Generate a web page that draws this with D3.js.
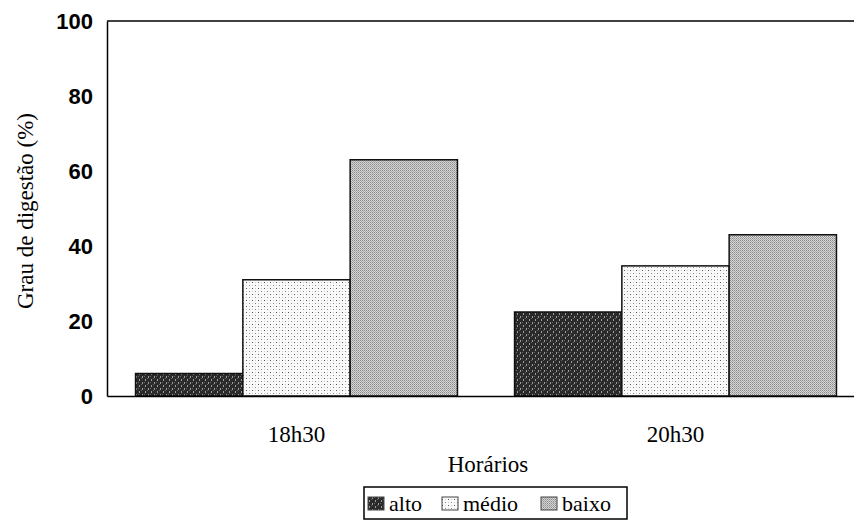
<!DOCTYPE html>
<html>
<head>
<meta charset="utf-8">
<script src="https://cdn.jsdelivr.net/npm/d3@7"></script>
<style>
  html, body { margin: 0; padding: 0; background: #fff; }
  svg { display: block; }
</style>
</head>
<body>
<div id="chart"></div>
<script>
/* Grau de digestão por horário — grouped bars with bitmap-like fill patterns. */
var horarios = ["18h30", "20h30"];
var niveis = ["alto", "médio", "baixo"];
var alto = [6, 22.4];
var medio = [31, 34.7];
var baixo = [63, 43];
var yTicks = [0, 20, 40, 60, 80, 100];

var series = [alto, medio, baixo];

var W = 854, H = 525;
var plot = { left: 107, right: 865, top: 21, bottom: 396 };
var SERIF = "Liberation Serif";
var SANS = "Liberation Sans";

var svg = d3.select("#chart").append("svg")
  .attr("width", W).attr("height", H)
  .attr("viewBox", "0 0 " + W + " " + H);

/* Fill patterns: dark, sparse dots, grey checker. */
var defs = svg.append("defs");
var pAlto = defs.append("pattern").attr("id", "p-alto")
  .attr("patternUnits", "userSpaceOnUse").attr("width", 6).attr("height", 6);
pAlto.append("rect").attr("width", 6).attr("height", 6).attr("fill", "#2a2a2a");
pAlto.append("rect").attr("x", 1).attr("y", 1).attr("width", 1).attr("height", 2).attr("fill", "#9a9a9a");
pAlto.append("rect").attr("x", 4).attr("y", 4).attr("width", 1).attr("height", 2).attr("fill", "#9a9a9a");
pAlto.append("rect").attr("x", 3).attr("y", 0).attr("width", 1).attr("height", 1).attr("fill", "#666");
pAlto.append("rect").attr("x", 0).attr("y", 4).attr("width", 1).attr("height", 1).attr("fill", "#666");

var pMedio = defs.append("pattern").attr("id", "p-medio")
  .attr("patternUnits", "userSpaceOnUse").attr("width", 6).attr("height", 6);
pMedio.append("rect").attr("width", 6).attr("height", 6).attr("fill", "#fafafa");
pMedio.append("rect").attr("x", 0).attr("y", 0).attr("width", 1).attr("height", 1).attr("fill", "#555");
pMedio.append("rect").attr("x", 3).attr("y", 3).attr("width", 1).attr("height", 1).attr("fill", "#888");
pMedio.append("rect").attr("x", 3).attr("y", 0).attr("width", 1).attr("height", 1).attr("fill", "#ccc");
pMedio.append("rect").attr("x", 0).attr("y", 3).attr("width", 1).attr("height", 1).attr("fill", "#ccc");

var pBaixo = defs.append("pattern").attr("id", "p-baixo")
  .attr("patternUnits", "userSpaceOnUse").attr("width", 2).attr("height", 2);
pBaixo.append("rect").attr("width", 2).attr("height", 2).attr("fill", "#d6d6d6");
pBaixo.append("rect").attr("x", 0).attr("y", 0).attr("width", 1).attr("height", 1).attr("fill", "#8a8a8a");
pBaixo.append("rect").attr("x", 1).attr("y", 1).attr("width", 1).attr("height", 1).attr("fill", "#a8a8a8");

var fills = ["url(#p-alto)", "url(#p-medio)", "url(#p-baixo)"];

var x0 = d3.scaleBand().domain(horarios).range([plot.left, plot.right]).padding(0);
var x1 = d3.scaleBand().domain(niveis).range([0, x0.bandwidth()])
  .paddingInner(0).paddingOuter(0.266);
var y = d3.scaleLinear().domain([0, 100]).range([plot.bottom, plot.top]);

/* Frame: top line. */
svg.append("line")
  .attr("x1", plot.left).attr("x2", W).attr("y1", y(100)).attr("y2", y(100))
  .attr("stroke", "#000").attr("stroke-width", 1.5);

/* Bars. */
horarios.forEach(function (h, i) {
  niveis.forEach(function (n, j) {
    var v = series[j][i];
    svg.append("rect")
      .attr("x", x0(h) + x1(n))
      .attr("y", y(v))
      .attr("width", x1.bandwidth())
      .attr("height", y(0) - y(v))
      .attr("fill", fills[j])
      .attr("stroke", "#111")
      .attr("stroke-width", 1.5);
  });
});

/* Y axis. */
var yAxis = svg.append("g")
  .attr("transform", "translate(" + plot.left + ",0)")
  .call(d3.axisLeft(y).tickValues(yTicks).tickSize(0).tickPadding(14));
yAxis.select(".domain").attr("stroke", "#000").attr("stroke-width", 1.5);
yAxis.selectAll("text")
  .style("font-family", SANS)
  .style("font-size", "22px")
  .style("font-weight", "bold")
  .attr("fill", "#000");

/* X axis. */
var xAxis = svg.append("g")
  .attr("transform", "translate(0," + plot.bottom + ")")
  .call(d3.axisBottom(x0).tickSize(0).tickPadding(30));
xAxis.select(".domain").attr("stroke", "#000").attr("stroke-width", 1.5);
xAxis.selectAll("text")
  .style("font-family", SERIF)
  .style("font-size", "23px")
  .attr("fill", "#000");

/* Axis titles. */
svg.append("text")
  .attr("x", 488).attr("y", 472)
  .attr("text-anchor", "middle")
  .style("font-family", SERIF)
  .style("font-size", "23px")
  .text("Horários");

svg.append("text")
  .attr("transform", "translate(33,211) rotate(-90)")
  .attr("text-anchor", "middle")
  .style("font-family", SERIF)
  .style("font-size", "23px")
  .text("Grau de digestão (%)");

/* Legend. */
var lg = svg.append("g").attr("transform", "translate(364,487)");
lg.append("rect").attr("x", 0).attr("y", 0).attr("width", 263).attr("height", 32)
  .attr("fill", "#fff").attr("stroke", "#000").attr("stroke-width", 1.5);
var legendX = [4, 78, 177];
niveis.forEach(function (n, j) {
  var g = lg.append("g").attr("transform", "translate(" + legendX[j] + ",0)");
  g.append("rect").attr("x", 0).attr("y", 10).attr("width", 16).attr("height", 13)
    .attr("fill", fills[j]).attr("stroke", "#444").attr("stroke-width", 1);
  g.append("text").attr("x", 21).attr("y", 24)
    .style("font-family", SERIF)
    .style("font-size", "22px")
    .text(n);
});
</script>
</body>
</html>
